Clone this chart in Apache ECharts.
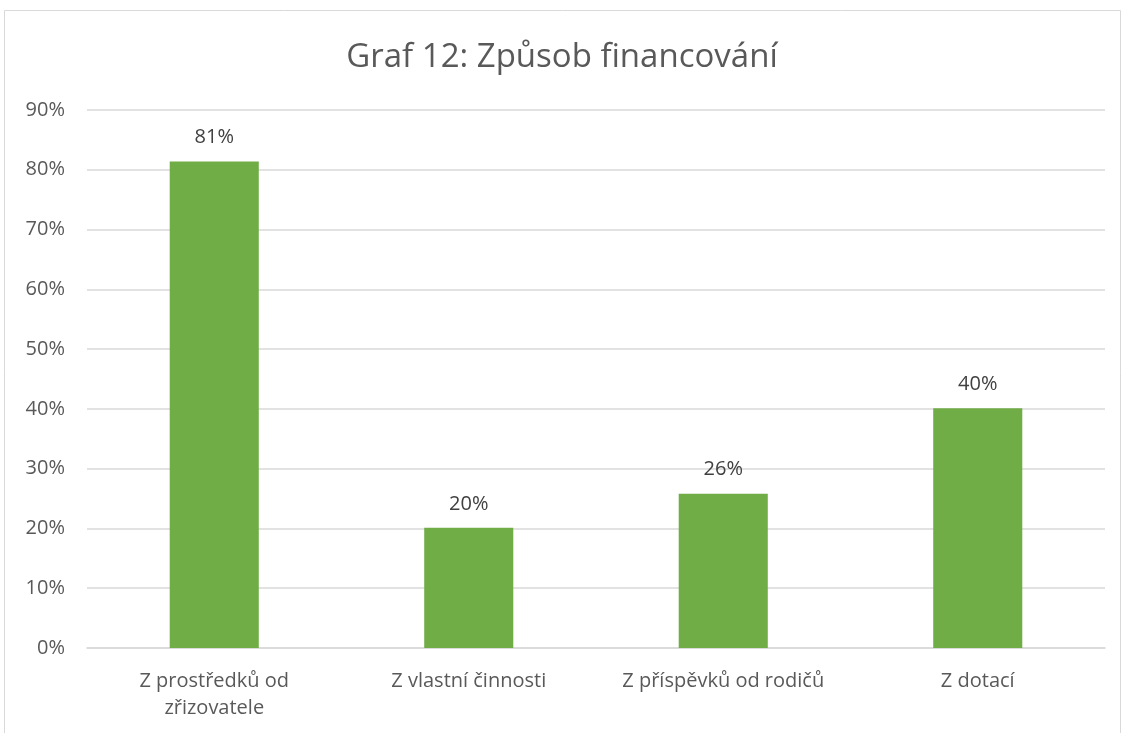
<!DOCTYPE html>
<html><head><meta charset="utf-8">
<script src="https://cdn.jsdelivr.net/npm/echarts@6/dist/echarts.min.js"></script>
<style>html,body{margin:0;padding:0;background:#fff}#c{width:1124px;height:733px}</style>
</head><body><div id="c"></div>
<script>
const titleText = 'Graf 12: Způsob financování';
const categories = ['Z prostředků od\nzřizovatele', 'Z vlastní činnosti', 'Z příspěvků od rodičů', 'Z dotací'];
const values = [81.4, 20.1, 25.8, 40.1];
const yTicks = [0, 10, 20, 30, 40, 50, 60, 70, 80, 90];

const chart = echarts.init(document.getElementById('c'));
chart.setOption({
  animation: false,
  backgroundColor: '#fff',
  graphic: [{type:'rect', shape:{x:4.5, y:10.5, width:1116, height:740}, style:{fill:'none', stroke:'#d9d9d9', lineWidth:1}, silent:true}],
  title: {text: titleText, left: 'center', top: 36, textStyle:{fontFamily:'Open Sans', fontSize:33, fontWeight:'normal', color:'#595959'}},
  grid: {left: 87, right: 19, top: 110, bottom: 85, containLabel: false},
  xAxis: {type:'category', data: categories,
    axisLine:{lineStyle:{color:'#d9d9d9', width:1.5}}, axisTick:{show:false},
    axisLabel:{fontFamily:'Open Sans', fontSize:20, color:'#595959', margin:20, lineHeight:27, interval:0}},
  yAxis: {type:'value', min:0, max:90, interval:10,
    axisLine:{show:false}, axisTick:{show:false},
    splitLine:{lineStyle:{color:'#d9d9d9', width:1.5}},
    axisLabel:{fontFamily:'Open Sans', fontSize:20, color:'#595959', margin:22, formatter: v => v + '%'}},
  series: [{type:'bar', data: values, barWidth:'35%', itemStyle:{color:'#70ad47'},
    label:{show:true, position:'top', distance:14, fontFamily:'Open Sans', fontSize:20, color:'#404040', formatter: p => Math.round(p.value) + '%'}}]
});
</script></body></html>
